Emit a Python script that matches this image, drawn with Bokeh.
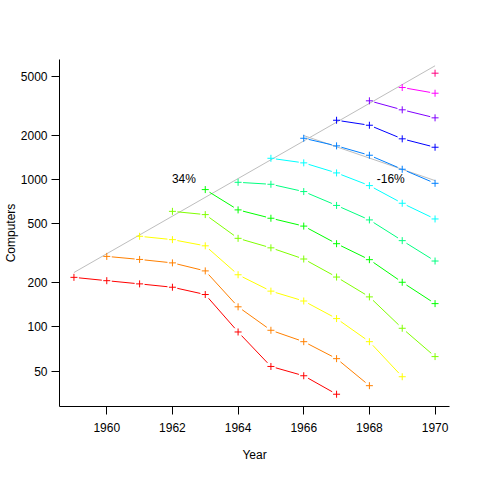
import math
from bokeh.plotting import figure
from bokeh.models import Range1d, FixedTicker, PrintfTickFormatter
from bokeh.core.properties import value
from bokeh.embed import file_html
from bokeh.resources import INLINE

# ---- data: computers installed per cohort (year of introduction) ----
cohort_years = [1959, 1960, 1961, 1962, 1963, 1964, 1965, 1966, 1967, 1968, 1969, 1970]
cohort_1959 = [217, 206, 196, 186, 166, 92.5, 54, 46.7, 35]
cohort_1960 = [301, 287, 272, 240, 137, 95, 79.5, 61, 40]
cohort_1961 = [412, 391, 355, 226, 175, 150, 114, 79.5, 46]
cohort_1962 = [608, 578, 399, 344, 289, 218, 160, 98, 63]
cohort_1963 = [854, 622, 546, 483, 367, 286, 201, 144]
cohort_1964 = [957, 928, 828, 667, 532, 385, 280]
cohort_1965 = [1392, 1296, 1108, 909, 690, 540]
cohort_1966 = [1903, 1690, 1460, 1173, 942]
cohort_1967 = [2521, 2332, 1886, 1654]
cohort_1968 = [3414, 2967, 2618]
cohort_1969 = [4203, 3844]
cohort_1970 = [5255]
cohorts = [cohort_1959, cohort_1960, cohort_1961, cohort_1962, cohort_1963, cohort_1964,
           cohort_1965, cohort_1966, cohort_1967, cohort_1968, cohort_1969, cohort_1970]
colors = ["#FF0000", "#FF8000", "#FFFF00", "#80FF00", "#00FF00", "#00FF80",
          "#00FFFF", "#0080FF", "#0000FF", "#8000FF", "#FF00FF", "#FF0080"]

growth_years = [1959, 1970]
growth_vals = [234, 5900]
decline_years = [1966, 1970]
decline_vals = [1985, 983]
note_x = [1962.35, 1968.65]
note_y = [1000, 1000]
note_text = ["34%", "-16%"]

x_ticks = [1960, 1962, 1964, 1966, 1968, 1970]
y_ticks = [50, 100, 200, 500, 1000, 2000, 5000]

FONT = "Liberation Sans"
X0, X1 = 1958.56, 1970.44
Y0, Y1 = 28.9, 6508
FW, FH = 390, 347

p = figure(width=464, height=464, x_range=Range1d(X0, X1), y_range=Range1d(Y0, Y1),
           y_axis_type="log", output_backend="svg", toolbar_location=None,
           min_border_left=59, min_border_right=15, min_border_top=59, min_border_bottom=58)
p.outline_line_color = None
p.xgrid.visible = False
p.ygrid.visible = False
p.background_fill_color = "white"
p.border_fill_color = "white"

# scale factors (pixels per unit) used to leave gaps around the points
kx = FW / (X1 - X0)
ky = FH / (math.log10(Y1) - math.log10(Y0))
gap = 5.0

# reference lines
p.line(growth_years, growth_vals, line_color="#BEBEBE", line_width=1)
p.line(decline_years, decline_vals, line_color="#BEBEBE", line_width=1)

for start, vals, col in zip(cohort_years, cohorts, colors):
    yrs = [start + i for i in range(len(vals))]
    x0s, y0s, x1s, y1s = [], [], [], []
    for i in range(len(vals) - 1):
        ax, ay = yrs[i] * kx, math.log10(vals[i]) * ky
        bx, by = yrs[i + 1] * kx, math.log10(vals[i + 1]) * ky
        L = math.hypot(bx - ax, by - ay)
        if L <= 2 * gap:
            continue
        f = gap / L
        x0s.append((ax + (bx - ax) * f) / kx)
        y0s.append(10 ** ((ay + (by - ay) * f) / ky))
        x1s.append((bx - (bx - ax) * f) / kx)
        y1s.append(10 ** ((by - (by - ay) * f) / ky))
    if x0s:
        p.segment(x0s, y0s, x1s, y1s, line_color=col, line_width=1)
    p.scatter(yrs, vals, marker="cross", size=7, line_color=col, line_width=1)

p.text(note_x, note_y, text=note_text, text_font=value(FONT), text_font_size="12px",
       text_align="center", text_baseline="middle", text_color="black")

for ax in (p.xaxis[0], p.yaxis[0]):
    ax.axis_line_color = "black"
    ax.major_tick_line_color = "black"
    ax.minor_tick_line_color = None
    ax.major_tick_in = 0
    ax.major_tick_out = 8
    ax.major_label_text_font = FONT
    ax.major_label_text_font_size = "12px"
    ax.major_label_text_color = "black"
    ax.axis_label_text_font = FONT
    ax.axis_label_text_font_size = "12px"
    ax.axis_label_text_font_style = "normal"
    ax.axis_label_text_color = "black"

p.xaxis.ticker = FixedTicker(ticks=x_ticks)
p.yaxis.ticker = FixedTicker(ticks=y_ticks)
p.xaxis.formatter = PrintfTickFormatter(format="%d")
p.yaxis.formatter = PrintfTickFormatter(format="%d")
p.xaxis.axis_label = "Year"
p.yaxis.axis_label = "Computers"
p.xaxis.major_label_standoff = 8
p.xaxis.axis_label_standoff = 13
p.yaxis.major_label_standoff = 4
p.yaxis.axis_label_standoff = 0
p.yaxis.major_tick_out = 8

open("out.html", "w").write(file_html(p, INLINE))
